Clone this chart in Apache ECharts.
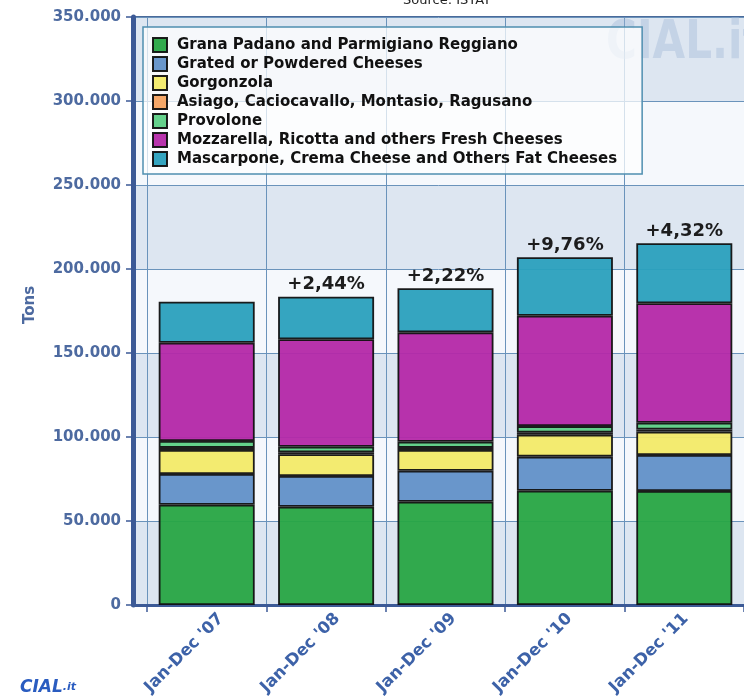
<!DOCTYPE html>
<html>
<head>
<meta charset="utf-8">
<script src="https://cdn.jsdelivr.net/npm/echarts@6/dist/echarts.min.js"></script>
<style>html,body{margin:0;padding:0;background:#fff;}#c{width:744px;height:698px;}</style>
</head>
<body>
<div id="c"></div>
<script>
var categories = ["Jan-Dec '07", "Jan-Dec '08", "Jan-Dec '09", "Jan-Dec '10", "Jan-Dec '11"];
var seriesNames = [
  "Grana Padano and Parmigiano Reggiano",
  "Grated or Powdered Cheeses",
  "Gorgonzola",
  "Asiago, Caciocavallo, Montasio, Ragusano",
  "Provolone",
  "Mozzarella, Ricotta and others Fresh Cheeses",
  "Mascarpone, Crema Cheese and Others Fat Cheeses"
];
var grana      = [59700, 58500, 61500, 68000, 67900];
var grated     = [18300, 18300, 18400, 20300, 21400];
var gorgonzola = [14300, 12900, 12400, 13100, 13900];
var asiago     = [1200, 1200, 1200, 1200, 1200];
var provolone  = [4100, 3300, 3700, 3900, 4100];
var mozzarella = [58500, 64000, 65100, 65700, 71100];
var mascarpone = [24400, 25300, 26200, 34800, 35700];
var changeLabels = ["", "+2,44%", "+2,22%", "+9,76%", "+4,32%"];

var colors = ['#27a543', '#6190c8', '#f2ea68', '#f4a261', '#5ccf85', '#b428a8', '#2aa0bd'];
var values = [grana, grated, gorgonzola, asiago, provolone, mozzarella, mascarpone];
var FONT = 'DejaVu Sans';
var AXIS_BLUE = '#3c5a96';
var LABEL_BLUE = '#4d6aa0';

function fmt(v) { return String(v).replace(/\B(?=(\d{3})+(?!\d))/g, '.'); }

var series = values.map(function (arr, i) {
  var s = {
    name: seriesNames[i],
    type: 'bar',
    stack: 'total',
    xAxisIndex: 0,
    yAxisIndex: 0,
    barWidth: 96,
    data: arr,
    itemStyle: { color: colors[i], borderColor: '#111', borderWidth: 1.8, opacity: 0.95 },
    emphasis: { disabled: true }
  };
  if (i === values.length - 1) {
    s.label = {
      show: true, position: 'top', distance: 3,
      formatter: function (p) { return changeLabels[p.dataIndex]; },
      fontFamily: FONT, fontWeight: 'bold', fontSize: 18, color: '#111'
    };
  }
  return s;
});

var chart = echarts.init(document.getElementById('c'), null, { renderer: 'canvas' });
chart.setOption({
  animation: false,
  backgroundColor: '#ffffff',
  grid: [
    { left: 147, top: 17, width: 600, bottom: 93, show: false, containLabel: false },
    { left: 133, top: 17, right: -30, bottom: 93, show: true, borderColor: '#4a6a9a', borderWidth: 2,
      backgroundColor: 'transparent', containLabel: false },
    { left: 163, top: 17, width: 600, bottom: 93, show: false, containLabel: false }
  ],
  xAxis: [
    { type: 'category', gridIndex: 0, data: categories, boundaryGap: true,
      axisLine: { show: false },
      axisTick: { show: true, length: 7, lineStyle: { color: AXIS_BLUE, width: 1.5 } },
      splitLine: { show: true, lineStyle: { color: '#6a93bb', width: 1 } },
      axisLabel: { show: false } },
    { type: 'value', gridIndex: 1, min: 0, max: 1, show: true,
      axisLine: { show: true, onZero: false, lineStyle: { color: AXIS_BLUE, width: 3 } },
      axisTick: { show: false }, axisLabel: { show: false }, splitLine: { show: false } },
    { type: 'category', gridIndex: 2, data: categories, boundaryGap: true,
      axisLine: { show: false }, axisTick: { show: false }, splitLine: { show: false },
      axisLabel: { interval: 0, rotate: 45, margin: 19, fontFamily: FONT, fontWeight: 'bold', fontSize: 16.5, color: '#3d62a8' } }
  ],
  yAxis: [
    { type: 'value', gridIndex: 0, min: 0, max: 350000, interval: 50000, show: false, splitLine: { show: false } },
    { type: 'value', gridIndex: 1, min: 0, max: 350000, interval: 50000,
      axisLine: { show: true, lineStyle: { color: AXIS_BLUE, width: 5 } },
      axisTick: { show: true, length: 7, lineStyle: { color: AXIS_BLUE, width: 1.5 } },
      axisLabel: { margin: 12, formatter: fmt, fontFamily: FONT, fontWeight: 'bold', fontSize: 15, color: LABEL_BLUE },
      splitLine: { show: true, lineStyle: { color: '#6a93bb', width: 1 } },
      splitArea: { show: true, areaStyle: { color: ['#dde6f1', '#f5f8fc'] } } },
    { type: 'value', gridIndex: 2, min: 0, max: 350000, interval: 50000, show: false, splitLine: { show: false } }
  ],
  legend: {
    orient: 'vertical', left: 143, top: 27,
    padding: [10, 25, 7, 9],
    itemGap: 3, itemWidth: 14, itemHeight: 14, icon: 'rect',
    backgroundColor: 'rgba(255,255,255,0.72)', borderColor: '#4f8fb0', borderWidth: 1.5,
    textStyle: { fontFamily: FONT, fontWeight: 'bold', fontSize: 15, color: '#111', padding: [0, 0, 0, 5] },
    data: seriesNames,
    selectedMode: false
  },
  graphic: [
    { type: 'text', left: 606, top: 17, z: 1, silent: true, scaleX: 0.78,
      style: { text: 'CIAL.it', font: 'bold 54px "DejaVu Sans"', fill: 'rgba(160,182,215,0.4)' } },
    { type: 'text', x: 447, y: -6, z: 5,
      style: { text: 'Source: ISTAT', font: '13px "DejaVu Sans"', fill: '#222', textAlign: 'center' } },
    { type: 'text', x: 30, y: 305, rotation: Math.PI / 2, z: 5,
      style: { text: 'Tons', font: 'bold 15px "DejaVu Sans"', fill: LABEL_BLUE, textAlign: 'center', textVerticalAlign: 'middle' } },
    { type: 'text', left: 20, top: 679, z: 5,
      style: { text: '{a|CIAL}{b|.it}',
        rich: { a: { font: 'italic bold 17px "DejaVu Sans"', fill: '#2a5cc0' },
                b: { font: 'italic bold 11px "DejaVu Sans"', fill: '#2a5cc0' } } } }
  ],
  series: series
});
</script>
</body>
</html>
